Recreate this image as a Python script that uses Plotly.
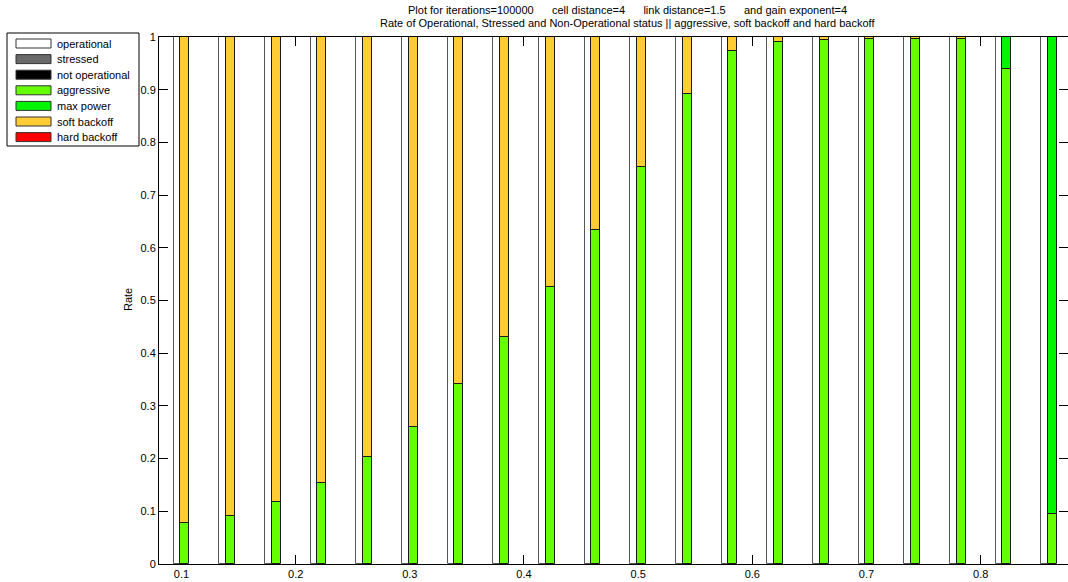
import plotly.graph_objects as go

# Link-load levels (one group of bars each)
load = [0.10, 0.14, 0.18, 0.22, 0.26, 0.30, 0.34, 0.38, 0.42, 0.46,
        0.50, 0.54, 0.58, 0.62, 0.66, 0.70, 0.74, 0.78, 0.82, 0.86]

# Status rates (left bar of each group)
operational = [1.0] * 20
stressed = [0.0] * 20
not_operational = [0.0] * 20

# Power-control rates (right bar of each group)
aggressive = [0.078, 0.091, 0.117, 0.153, 0.203, 0.260, 0.342, 0.430, 0.526, 0.634,
              0.754, 0.891, 0.974, 0.990, 0.995, 0.996, 0.997, 0.997, 0.940, 0.094]
max_power = [0.0, 0.0, 0.0, 0.0, 0.0, 0.0, 0.0, 0.0, 0.0, 0.0,
             0.0, 0.0, 0.0, 0.0, 0.0, 0.0, 0.0, 0.0, 0.060, 0.906]
soft_backoff = [0.922, 0.909, 0.883, 0.847, 0.797, 0.740, 0.658, 0.570, 0.474, 0.366,
                0.246, 0.109, 0.026, 0.010, 0.005, 0.004, 0.003, 0.003, 0.0, 0.0]
hard_backoff = [0.0] * 20

x_ticks = [0.1, 0.2, 0.3, 0.4, 0.5, 0.6, 0.7, 0.8]
y_ticks = [0, 0.1, 0.2, 0.3, 0.4, 0.5, 0.6, 0.7, 0.8, 0.9, 1]

FONT = "Liberation Sans, Arial, Helvetica, sans-serif"
W, H = 1068, 582
ML, MR, MT, MB = 159, 0, 37, 18
PW, PH = W - ML - MR, H - MT - MB

colors = {
    "operational": "#FFFFFF",
    "stressed": "#696969",
    "not operational": "#000000",
    "aggressive": "#66FF00",
    "max power": "#00F500",
    "soft backoff": "#FFCC33",
    "hard backoff": "#FF0000",
}

fig = go.Figure()


def add_stack(series, offset, width, edge):
    base = [0.0] * len(load)
    for name, vals in series:
        fig.add_trace(go.Bar(
            x=load, y=vals, base=list(base), name=name,
            offset=offset, width=width,
            marker=dict(color=colors[name], line=dict(color=edge, width=1)),
            showlegend=False,
        ))
        base = [b + v for b, v in zip(base, vals)]


add_stack([("operational", operational), ("stressed", stressed),
           ("not operational", not_operational)], -0.0070, 0.0070, "#555555")
add_stack([("aggressive", aggressive), ("max power", max_power),
           ("soft backoff", soft_backoff), ("hard backoff", hard_backoff)],
          -0.0010, 0.0078, "#1a1a1a")


def px_x(p):
    return (p - ML) / PW


def px_y(p):
    return (H - MB - p) / PH


shapes = []
annotations = []

# legend box
shapes.append(dict(type="rect", xref="paper", yref="paper",
                   x0=px_x(7), x1=px_x(139), y0=px_y(33), y1=px_y(146),
                   line=dict(color="black", width=1), fillcolor="white", layer="above"))
legend_items = ["operational", "stressed", "not operational", "aggressive",
                "max power", "soft backoff", "hard backoff"]
for i, name in enumerate(legend_items):
    cy = 43.5 + i * 15.6
    shapes.append(dict(type="rect", xref="paper", yref="paper",
                       x0=px_x(16), x1=px_x(51), y0=px_y(cy - 4.5), y1=px_y(cy + 4.5),
                       line=dict(color="#333333", width=1), fillcolor=colors[name],
                       layer="above"))
    annotations.append(dict(xref="paper", yref="paper", x=px_x(55), y=px_y(cy),
                            text=name, showarrow=False, xanchor="left", yanchor="middle",
                            font=dict(family=FONT, size=11, color="black")))

# y-axis title
annotations.append(dict(xref="paper", yref="paper", x=px_x(128), y=px_y(300),
                        text="Rate", showarrow=False, textangle=-90,
                        xanchor="center", yanchor="middle",
                        font=dict(family=FONT, size=11, color="black")))

# two-line title
gap = "\u00a0" * 6
title_lines = [
    "Plot for iterations=100000" + gap + "cell distance=4" + gap +
    "link distance=1.5" + gap + "and gain exponent=4",
    "Rate of Operational, Stressed and Non-Operational status || "
    "aggressive, soft backoff and hard backoff",
]
for line, ty in zip(title_lines, [10.5, 23.5]):
    annotations.append(dict(xref="paper", yref="paper", x=px_x(627), y=px_y(ty),
                            text=line, showarrow=False, xanchor="center",
                            yanchor="middle",
                            font=dict(family=FONT, size=11, color="black")))

fig.update_layout(
    width=W, height=H,
    margin=dict(l=ML, r=MR, t=MT, b=MB, pad=0),
    paper_bgcolor="white", plot_bgcolor="white",
    barmode="overlay", bargap=0,
    showlegend=False,
    font=dict(family=FONT, size=11, color="black"),
    shapes=shapes, annotations=annotations,
)

fig.update_xaxes(range=[0.0803, 0.8765], tickvals=x_ticks, ticktext=[str(v) for v in x_ticks],
                 ticks="inside", ticklen=9, tickcolor="black", tickwidth=1,
                 showline=True, linecolor="black", linewidth=1, mirror="ticks",
                 showgrid=False, zeroline=False, layer="below traces",
                 tickfont=dict(family=FONT, size=11, color="black"))
fig.update_yaxes(range=[0, 1], tickvals=y_ticks, ticktext=[("%g" % v) for v in y_ticks],
                 ticks="inside", ticklen=9, tickcolor="black", tickwidth=1,
                 showline=True, linecolor="black", linewidth=1, mirror="ticks",
                 showgrid=False, zeroline=False, layer="below traces",
                 tickfont=dict(family=FONT, size=11, color="black"))

fig.write_html("out.html")
